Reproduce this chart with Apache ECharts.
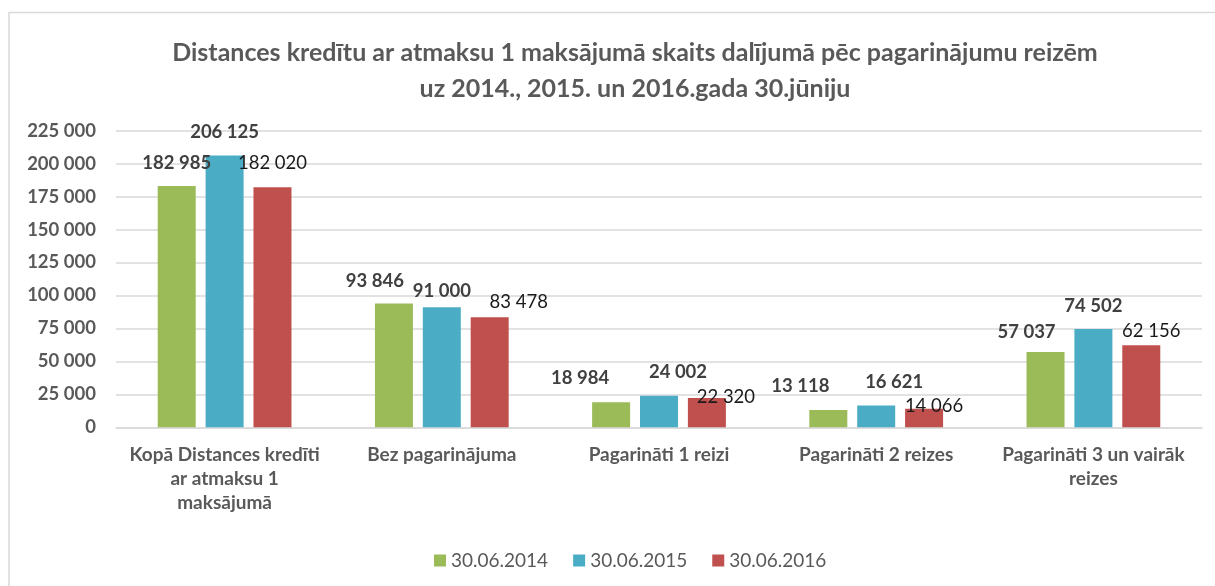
<!DOCTYPE html>
<html>
<head>
<meta charset="utf-8">
<script src="https://cdn.jsdelivr.net/npm/echarts@6/dist/echarts.min.js"></script>
<style>
  html, body { margin: 0; padding: 0; background: #fff; }
  #chart { width: 1215px; height: 586px; }
</style>
</head>
<body>
<div id="chart"></div>
<script>
// Loan counts by number of extensions, as of 30 June of each year
const categories = [
  'Kopā Distances kredīti\nar atmaksu 1\nmaksājumā',
  'Bez pagarinājuma',
  'Pagarināti 1 reizi',
  'Pagarināti 2 reizes',
  'Pagarināti 3 un vairāk\nreizes'
];
const seriesNames = ['30.06.2014', '30.06.2015', '30.06.2016'];
const values2014 = [182985, 93846, 18984, 13118, 57037];
const values2015 = [206125, 91000, 24002, 16621, 74502];
const values2016 = [182020, 83478, 22320, 14066, 62156];

const yMin = 0, yMax = 225000, yStep = 25000;

// label placement per bar: [horizontal shift, height of label centre above bar top]
const labelPlacement = [
  [[0, 23], [-19, 23], [-31, 24], [-28, 24], [-19, 20]],
  [[0, 24], [0, 16], [19, 24], [18, 23], [0, 23]],
  [[0, 24], [29, 15], [19, 1], [10, 3], [10, 14]]
];

const colors = ['#9BBB59', '#4BACC6', '#C0504D'];
const FONT = 'Lato';

function fmt(v) {
  return String(v).replace(/\B(?=(\d{3})+(?!\d))/g, ' ');
}

function buildSeries(name, vals, idx) {
  const bold = idx < 2;
  return {
    name: name,
    type: 'bar',
    barWidth: 38,
    barGap: '26%',
    itemStyle: { color: colors[idx] },
    data: vals.map((v, i) => ({
      value: v,
      label: {
        offset: [labelPlacement[idx][i][0], -(labelPlacement[idx][i][1] - 10)]
      }
    })),
    label: {
      show: true,
      position: 'top',
      distance: 0,
      lineHeight: 20,
      fontFamily: FONT,
      fontSize: 18.5,
      fontWeight: bold ? 'bold' : 'normal',
      color: bold ? '#404040' : '#1a1a1a',
      formatter: p => fmt(p.value)
    }
  };
}

const chart = echarts.init(document.getElementById('chart'), null, { renderer: 'canvas' });
chart.setOption({
  animation: false,
  backgroundColor: '#ffffff',
  textStyle: { fontFamily: FONT },
  graphic: [{
    type: 'rect',
    shape: { x: 9, y: 12.5, width: 1230, height: 600 },
    style: { fill: 'none', stroke: '#d9d9d9', lineWidth: 1.5 },
    silent: true,
    z: -1
  }],
  title: {
    text: 'Distances kredītu ar atmaksu 1 maksājumā skaits dalījumā pēc pagarinājumu reizēm\nuz 2014., 2015. un 2016.gada 30.jūniju',
    left: 630,
    top: 30,
    textAlign: 'center',
    textStyle: {
      fontFamily: FONT,
      fontSize: 25,
      fontWeight: 'bold',
      color: '#595959',
      lineHeight: 36
    }
  },
  legend: {
    data: seriesNames,
    left: 429,
    top: 546,
    icon: 'rect',
    itemWidth: 12,
    itemHeight: 12,
    itemGap: 25,
    textStyle: { fontFamily: FONT, fontSize: 19, color: '#595959', padding: [0, 0, 0, 0] }
  },
  grid: { left: 116, right: 13, top: 130.7, bottom: 158.7, containLabel: false },
  xAxis: {
    type: 'category',
    data: categories,
    axisTick: { show: false },
    axisLine: { lineStyle: { color: '#d9d9d9', width: 1.5 } },
    axisLabel: {
      interval: 0,
      margin: 16,
      fontFamily: FONT,
      fontSize: 19,
      fontWeight: 'bold',
      color: '#595959',
      lineHeight: 24
    }
  },
  yAxis: {
    type: 'value',
    min: yMin,
    max: yMax,
    interval: yStep,
    axisLine: { show: false },
    axisTick: { show: false },
    splitLine: { lineStyle: { color: '#d9d9d9', width: 1.5 } },
    axisLabel: {
      margin: 20,
      fontFamily: FONT,
      fontSize: 18.5,
      fontWeight: 'bold',
      color: '#595959',
      formatter: v => fmt(v)
    }
  },
  series: [
    buildSeries(seriesNames[0], values2014, 0),
    buildSeries(seriesNames[1], values2015, 1),
    buildSeries(seriesNames[2], values2016, 2)
  ]
});
</script>
</body>
</html>
